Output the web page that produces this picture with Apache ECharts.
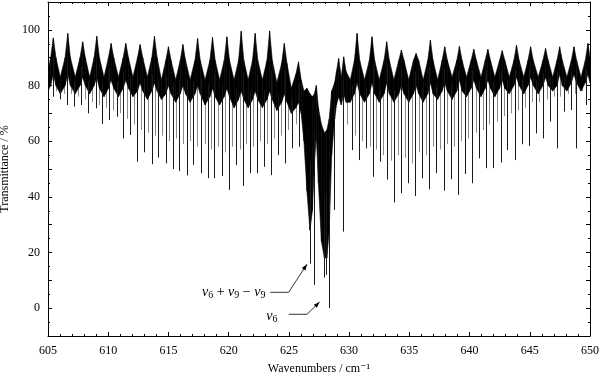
<!DOCTYPE html>
<html>
<head>
<meta charset="utf-8">
<script src="https://cdn.jsdelivr.net/npm/echarts@6/dist/echarts.min.js"></script>
<style>
html, body { margin: 0; padding: 0; background: #fff; }
#chart { width: 600px; height: 378px; }
</style>
</head>
<body>
<div id="chart"></div>
<script>
// dense rotational band: x, upper edge and lower edge of the black area
const bandX = [
  605.00, 605.22, 605.44, 605.66, 606.02, 606.42, 606.64, 606.86, 607.26, 607.66,
  607.88, 608.10, 608.46, 608.83, 609.05, 609.27, 609.65, 610.02, 610.24, 610.46,
  610.85, 611.24, 611.46, 611.68, 612.05, 612.43, 612.65, 612.87, 613.25, 613.62,
  613.84, 614.06, 614.42, 614.78, 615.00, 615.22, 615.60, 615.98, 616.20, 616.42,
  616.80, 617.20, 617.42, 617.64, 618.04, 618.44, 618.66, 618.88, 619.25, 619.63,
  619.85, 620.07, 620.45, 620.82, 621.04, 621.26, 621.62, 621.98, 622.20, 622.42,
  622.80, 623.18, 623.40, 623.62, 624.00, 624.40, 624.62, 624.84, 625.20, 625.58,
  625.80, 626.02, 626.25, 626.50, 626.75, 626.95, 627.12, 627.28, 627.45, 627.70,
  627.95, 628.15, 628.35, 628.55, 628.80, 628.95, 629.13, 629.35, 629.55, 629.75,
  630.10, 630.44, 630.66, 630.88, 631.28, 631.68, 631.90, 632.12, 632.50, 632.90,
  633.12, 633.34, 633.72, 634.12, 634.34, 634.56, 634.95, 635.34, 635.56, 635.78,
  636.15, 636.53, 636.75, 636.97, 637.35, 637.72, 637.94, 638.16, 638.55, 638.94,
  639.16, 639.38, 639.75, 640.13, 640.35, 640.57, 640.95, 641.30, 641.52, 641.74,
  642.10, 642.49, 642.71, 642.93, 643.30, 643.68, 643.90, 644.12, 644.50, 644.85,
  645.07, 645.29, 645.70, 646.09, 646.31, 646.53, 646.90, 647.26, 647.48, 647.70,
  648.08, 648.45, 648.67, 648.89, 649.25, 649.61, 649.83, 650.00];
const bandHi = [
  85, 90, 97.1, 90, 83, 90, 98.7, 90, 83, 90,
  95.7, 90, 83, 90, 97.7, 90, 83, 90, 95.1, 90,
  83, 90, 95.1, 90, 83, 90, 94.7, 90, 83, 90,
  97.7, 90, 82, 89, 93.9, 89, 82, 89, 94.7, 89,
  82, 89, 96.9, 89, 82, 89, 97.3, 89, 82, 89,
  97.5, 89, 82, 89, 99.5, 89, 82, 89, 98.7, 89,
  82, 89, 99.6, 89, 81, 88, 95.1, 88, 79, 84,
  88.5, 82, 78, 79, 77, 76, 77, 80, 72, 66,
  63, 64, 68, 78, 81, 85, 89.7, 83, 90.3, 85,
  82, 89, 98.7, 89, 82, 89, 97.5, 89, 82, 89,
  95.7, 89, 82, 89, 92.7, 89, 82, 89, 91.5, 89,
  82, 89, 96.3, 89, 82, 89, 93.9, 89, 83, 89,
  94.1, 89, 83, 89, 93.0, 89, 83, 89, 93.0, 89,
  83, 89, 92.5, 89, 83, 89, 94.5, 89, 83, 89,
  93.9, 89, 83, 89, 93.3, 89, 83, 89, 93.9, 89,
  83, 89, 93.9, 89, 83, 89, 95.1, 90];
const bandLo = [
  78, 80, 84, 80, 77, 80, 84, 80, 77, 80,
  83, 80, 77, 80, 83, 79, 76, 79, 82, 79,
  76, 79, 82, 79, 76, 78, 81, 78, 75, 78,
  81, 78, 75, 77, 80, 77, 74, 77, 80, 77,
  74, 77, 80, 77, 73, 76, 79, 76, 73, 76,
  79, 76, 72, 75, 78, 75, 72, 75, 78, 75,
  72, 75, 78, 75, 71, 74, 77, 74, 70, 72,
  74, 70, 60, 42, 28, 35, 52, 62, 45, 24,
  18, 18, 28, 55, 68, 73, 76, 73, 77, 74,
  74, 77, 81, 77, 74, 77, 81, 77, 74, 77,
  81, 77, 74, 77, 80, 77, 74, 77, 80, 77,
  74, 77, 81, 77, 75, 78, 81, 78, 75, 78,
  82, 78, 76, 79, 82, 79, 76, 79, 82, 79,
  76, 79, 82, 79, 77, 80, 83, 80, 77, 80,
  83, 80, 77, 80, 83, 80, 78, 80, 84, 80,
  78, 81, 84, 81, 78, 81, 84, 81];

// strong absorption lines: position (cm-1) and minimum transmittance (%)
const lineX = [605.42, 606.00, 606.58, 607.16, 607.75, 608.35, 608.96, 609.51, 610.10, 610.70,
               611.26, 611.80, 612.42, 613.00, 613.62, 614.17, 614.78, 615.36, 615.90, 616.53,
               617.08, 617.69, 618.27, 618.82, 619.44, 619.99, 620.60, 621.18, 621.73, 622.35,
               622.90, 623.51, 624.06, 624.64, 625.26, 625.81, 626.42, 626.78, 627.10, 627.95,
               628.10, 628.30, 628.77, 629.49, 630.24, 630.80, 631.40, 631.96, 632.54, 633.15,
               633.70, 634.32, 634.90, 635.50, 636.06, 636.67, 637.25, 637.86, 638.42, 639.02,
               639.61, 640.22, 640.77, 641.38, 641.97, 642.57, 643.13, 643.74, 644.32, 644.93,
               645.54, 646.09, 646.67, 647.28, 647.83, 648.44, 648.86, 649.64];
const lineMin = [76, 75, 73, 72.4, 73, 70, 71.8, 66.2, 67.6, 68.8,
                 61, 62.2, 52.6, 56, 51.7, 54.1, 52, 50, 49.3, 47.7,
                 51.5, 48.5, 46.7, 46.7, 47.5, 42.5, 51.4, 43.9, 48.5, 48.5,
                 50.8, 47.8, 55, 52, 57.4, 58, 62.8, 16, 8.4, 11,
                 12, 0, 35.3, 27.5, 56.8, 53.2, 57.4, 47.2, 52.6, 46.2,
                 38, 41.3, 44.9, 40.3, 46.7, 42.7, 48.5, 42.2, 46.3, 40.7,
                 48.2, 44.9, 53.8, 50.3, 50.3, 52.3, 56.8, 53.2, 58.9, 58.3,
                 62.8, 61, 67, 57.4, 70.6, 71.2, 57.4, 73];

// weaker lines (grey) between the strong ones
const weakX = [605.70, 606.30, 606.90, 607.45, 608.05, 608.65, 609.20, 609.80, 610.40, 611.00,
               611.55, 612.10, 612.70, 613.30, 613.90, 614.45, 615.05, 615.65, 616.20, 616.80,
               617.40, 618.00, 618.55, 619.15, 619.70, 620.30, 620.90, 621.45, 622.05, 622.60,
               623.20, 623.80, 624.35, 624.95, 625.55, 626.10,
               629.80, 630.50, 631.10, 631.70, 632.25, 632.85, 633.45, 634.05, 634.60, 635.20,
               635.80, 636.35, 636.95, 637.55, 638.15, 638.70, 639.30, 639.90, 640.50, 641.10,
               641.65, 642.25, 642.85, 643.45, 644.00, 644.60, 645.20, 645.80, 646.40, 647.00,
               647.55, 648.15, 648.75, 649.35];
const weakMin = [78, 77, 77, 76, 75, 74, 73, 72, 71, 70,
                 68, 66, 64, 63, 62, 62, 60, 61, 59, 60,
                 58, 59, 57, 58, 56, 58, 57, 59, 58, 60,
                 59, 61, 62, 64, 66, 68,
                 66, 62, 60, 58, 57, 55, 53, 55, 54, 52,
                 56, 55, 58, 57, 59, 58, 60, 61, 63, 64,
                 66, 67, 69, 70, 71, 72, 74, 74, 75, 76,
                 76, 77, 77, 78];

// annotations: label anchor, leader path (last point = arrow tip)
const noteText = ['{v|ν}{s|6}{o| + }{v|ν}{s|9}{o| − }{v|ν}{s|9}', '{v|ν}{s|6}'];
const noteAt = [[623.05, 5.7], [624.05, -2.8]];
const notePath = [
  [[623.45, 5.7], [624.98, 5.7], [626.50, 15.8]],
  [[624.98, -2.2], [626.50, -2.2], [627.55, 2.2]]
];

const FONT = '"Liberation Serif", "DejaVu Serif", serif';

function bandMid(x) {
  for (let j = 0; j < bandX.length - 1; j++) {
    if (x >= bandX[j] && x <= bandX[j + 1]) {
      const t = (x - bandX[j]) / (bandX[j + 1] - bandX[j]);
      const hi = bandHi[j] + t * (bandHi[j + 1] - bandHi[j]);
      const lo = bandLo[j] + t * (bandLo[j + 1] - bandLo[j]);
      return (hi + lo) / 2;
    }
  }
  return 80;
}

function renderBand(params, api) {
  const i = params.dataIndex;
  if (i >= bandX.length - 1) return null;
  const pts = [
    api.coord([bandX[i], bandHi[i]]),
    api.coord([bandX[i + 1], bandHi[i + 1]]),
    api.coord([bandX[i + 1], bandLo[i + 1]]),
    api.coord([bandX[i], bandLo[i]])
  ];
  return {
    type: 'polygon',
    shape: { points: pts },
    style: { fill: '#000', stroke: '#000', lineWidth: 0.6 }
  };
}

function renderLine(params, api) {
  const x = api.value(0);
  const a = api.coord([x, bandMid(x)]);
  const b = api.coord([x, api.value(1)]);
  const px = Math.round(a[0]) + 0.5;
  return {
    type: 'line',
    shape: { x1: px, y1: a[1], x2: px, y2: b[1] },
    style: { stroke: api.visual('color'), lineWidth: 1 }
  };
}

function renderNote(params, api) {
  const k = params.dataIndex;
  const pts = notePath[k].map(p => api.coord(p));
  const tip = pts[pts.length - 1];
  const prev = pts[pts.length - 2];
  const ang = Math.atan2(tip[1] - prev[1], tip[0] - prev[0]);
  const L = 6, W = 2.2;
  const c = Math.cos(ang), s = Math.sin(ang);
  const head = [
    tip,
    [tip[0] - L * c + W * s, tip[1] - L * s - W * c],
    [tip[0] - L * c - W * s, tip[1] - L * s + W * c]
  ];
  const lab = api.coord(noteAt[k]);
  return {
    type: 'group',
    children: [
      { type: 'polyline', shape: { points: pts }, style: { stroke: '#333', lineWidth: 1, fill: null } },
      { type: 'polygon', shape: { points: head }, style: { fill: '#000' } },
      {
        type: 'text', x: lab[0], y: lab[1],
        style: {
          text: noteText[k], align: 'right', verticalAlign: 'middle',
          rich: {
            v: { fontFamily: FONT, fontStyle: 'italic', fontSize: 14, lineHeight: 16, fill: '#000' },
            s: { fontFamily: FONT, fontSize: 10, lineHeight: 10, verticalAlign: 'bottom', fill: '#000' },
            o: { fontFamily: FONT, fontSize: 14, lineHeight: 16, fill: '#000' }
          }
        }
      }
    ]
  };
}

const chart = echarts.init(document.getElementById('chart'), null, { renderer: 'canvas' });

const xBase = {
  type: 'value', min: 605, max: 650, interval: 5,
  axisLine: { show: true, onZero: false, lineStyle: { color: '#000', width: 1 } },
  axisTick: { show: true, inside: true, length: 4, lineStyle: { color: '#000' } },
  minorTick: { show: true, splitNumber: 5, length: 2, lineStyle: { color: '#000' } },
  splitLine: { show: false }
};
const yBase = {
  type: 'value', min: -10, max: 110, interval: 10,
  axisLine: { show: true, onZero: false, lineStyle: { color: '#000', width: 1 } },
  axisTick: { show: true, inside: true, length: 4, lineStyle: { color: '#000' } },
  minorTick: { show: true, splitNumber: 2, length: 2, lineStyle: { color: '#000' } },
  splitLine: { show: false }
};

chart.setOption({
  animation: false,
  backgroundColor: '#fff',
  grid: { left: 48, right: 10, top: 2, bottom: 42, containLabel: false, outerBoundsMode: 'none' },
  xAxis: [
    Object.assign({}, xBase, {
      position: 'bottom',
      name: 'Wavenumbers / cm⁻¹', nameLocation: 'middle', nameGap: 27,
      nameTextStyle: { fontFamily: FONT, fontSize: 12, color: '#000' },
      axisLabel: { fontFamily: FONT, fontSize: 12, color: '#000', margin: 9 }
    }),
    Object.assign({}, xBase, { position: 'top', axisLabel: { show: false } })
  ],
  yAxis: [
    Object.assign({}, yBase, {
      position: 'left',
      name: 'Transmittance / %', nameLocation: 'middle', nameGap: 28,
      nameTextStyle: { fontFamily: FONT, fontSize: 12, color: '#000' },
      axisLabel: {
        fontFamily: FONT, fontSize: 12, color: '#000', margin: 8,
        formatter: v => (v >= 0 && v % 20 === 0) ? String(v) : ''
      }
    }),
    Object.assign({}, yBase, { position: 'right', axisLabel: { show: false } })
  ],
  series: [
    {
      name: 'weak', type: 'custom', clip: true, color: '#8a8a8a',
      renderItem: renderLine, encode: { x: 0, y: 1 },
      data: weakX.map((x, i) => [x, weakMin[i]])
    },
    {
      name: 'band', type: 'custom', clip: true,
      renderItem: renderBand, encode: { x: 0, y: [1, 2] },
      data: bandX.map((x, i) => [x, bandHi[i], bandLo[i]])
    },
    {
      name: 'lines', type: 'custom', clip: true, color: '#1a1a1a',
      renderItem: renderLine, encode: { x: 0, y: 1 },
      data: lineX.map((x, i) => [x, lineMin[i]])
    },
    {
      name: 'notes', type: 'custom', clip: false,
      renderItem: renderNote, encode: { x: 0, y: 1 },
      data: noteAt
    }
  ]
});
</script>
</body>
</html>
